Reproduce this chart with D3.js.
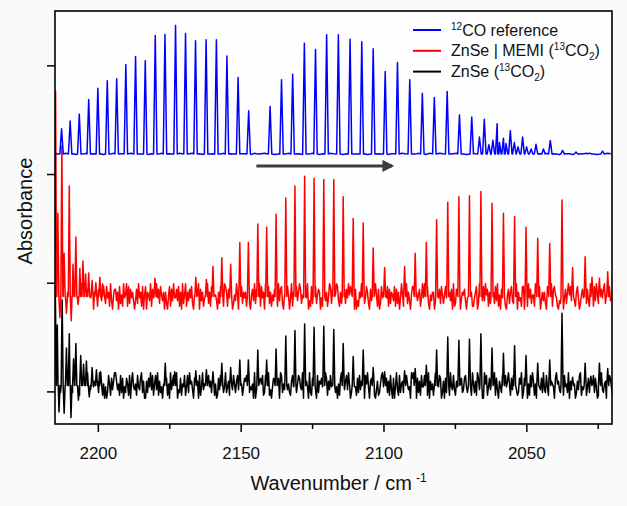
<!DOCTYPE html>
<meta charset="utf-8" />
<style>
    body {
        margin: 0;
        background: #fafafa;
    }

    svg text {
        font-family: "Liberation Sans", Arial, sans-serif;
        fill: #111;
    }

    .frame {
        fill: none;
        stroke: #000;
        stroke-width: 1.6px;
    }

    .trace {
        fill: none;
        stroke-width: 1.5px;
        stroke-linejoin: round;
    }
</style>
<svg width="627" height="506"></svg>
<script src="https://d3js.org/d3.v7.min.js"></script>
<script>
    //x axis ticks (wavenumber, cm-1)
    var majorTicks = [2200, 2150, 2100, 2050];
    var minorTicks = [2175, 2125, 2075, 2025];
    var yTicks = [0, 1, 2, 3];

    //series names for the legend
    var seriesNames = ["12CO reference", "ZnSe | MEMI (13CO2)", "ZnSe (13CO2)"];

    //baselines (absorbance, offset traces)
    var blueBase = 2.185;
    var redBase = 0.874;
    var blackBase = 0.055;

    //12CO reference lines: [wavenumber, absorbance at top]
    var bluePeaks = [
        [2212.7, 2.417], [2209.7, 2.487], [2206.5, 2.551], [2203.2, 2.686], [2200.0, 2.790],
        [2196.7, 2.858], [2193.4, 2.877], [2190.2, 3.008], [2186.8, 3.082], [2183.4, 3.042],
        [2179.9, 3.275], [2176.5, 3.284], [2172.8, 3.367], [2169.3, 3.293], [2165.8, 3.226],
        [2162.1, 3.236], [2158.5, 3.236], [2154.8, 3.085], [2150.9, 2.889], [2147.2, 2.582],
        [2139.7, 2.622], [2135.7, 2.868], [2131.8, 2.919], [2127.7, 3.204], [2123.8, 3.146],
        [2119.9, 3.282], [2115.8, 3.282], [2111.7, 3.241], [2107.6, 3.217], [2103.6, 3.153],
        [2099.4, 2.944], [2095.1, 3.027], [2090.8, 2.868], [2086.4, 2.744], [2082.2, 2.705],
        [2077.7, 2.760], [2073.4, 2.542], [2069.1, 2.524], [2066.4, 2.340], [2064.7, 2.503],
        [2063.1, 2.270], [2061.7, 2.310], [2060.2, 2.463], [2059.4, 2.290], [2058.0, 2.330],
        [2057.1, 2.280], [2055.6, 2.399], [2054.2, 2.290], [2052.9, 2.250], [2051.3, 2.340],
        [2049.9, 2.250], [2048.3, 2.230], [2046.6, 2.273], [2044.0, 2.230], [2041.6, 2.309],
        [2037.3, 2.217], [2032.6, 2.202], [2027.9, 2.193], [2023.3, 2.211]
    ];

    //ZnSe | MEMI (13CO2) spikes
    var redPeaks = [
        [2214.8, 2.76], [2214.0, 1.64], [2213.3, 0.68], [2212.6, 2.26], [2211.8, 1.27],
        [2211.0, 0.72], [2210.0, 1.89], [2209.3, 0.65], [2208.7, 1.17], [2207.7, 1.42],
        [2206.9, 0.80], [2206.3, 1.13], [2205.2, 1.20], [2204.3, 1.08], [2203.2, 1.09],
        [2202.0, 1.02], [2200.7, 1.00], [2199.3, 1.05], [2198.0, 0.97], [2180.0, 1.04],
        [2165.7, 1.05], [2162.0, 1.03], [2159.7, 1.15], [2156.6, 1.23], [2153.5, 1.17],
        [2150.3, 1.37], [2147.3, 1.37], [2144.0, 1.54], [2140.9, 1.51], [2137.6, 1.63],
        [2134.2, 1.78], [2131.0, 1.89], [2127.6, 1.98], [2124.3, 1.96], [2120.9, 1.95],
        [2117.4, 1.95], [2114.1, 1.79], [2110.6, 1.59], [2107.1, 1.55], [2103.6, 1.32],
        [2099.6, 1.14], [2092.6, 1.15], [2088.9, 1.27], [2085.0, 1.37], [2081.4, 1.58],
        [2077.5, 1.74], [2073.6, 1.79], [2069.9, 1.80], [2065.9, 1.84], [2062.0, 1.73],
        [2058.0, 1.64], [2054.1, 1.61], [2050.1, 1.51], [2046.0, 1.41], [2041.8, 1.36],
        [2037.5, 1.76], [2033.8, 1.14], [2029.4, 1.24], [2027.0, 1.05], [2024.4, 1.04],
        [2021.5, 1.10]
    ];

    //ZnSe (13CO2) spikes
    var blackPeaks = [
        [2214.9, 0.975], [2214.2, 0.61], [2213.6, -0.19], [2212.5, 0.84], [2211.8, -0.20],
        [2211.0, 0.40], [2210.0, 0.53], [2209.4, -0.24], [2208.5, 0.30], [2207.7, 0.44],
        [2206.8, -0.08], [2206.0, 0.33], [2205.0, 0.25], [2204.0, 0.28], [2203.0, -0.05],
        [2202.0, 0.22], [2200.5, 0.20], [2199.0, 0.18], [2176.4, 0.26], [2173.1, 0.18],
        [2165.7, 0.19], [2162.0, 0.20], [2159.7, 0.18], [2156.6, 0.26], [2153.5, 0.22],
        [2150.3, 0.29], [2147.3, 0.29], [2144.0, 0.38], [2140.9, 0.29], [2137.6, 0.39],
        [2134.2, 0.51], [2131.0, 0.56], [2127.6, 0.62], [2124.3, 0.59], [2120.9, 0.60],
        [2117.4, 0.57], [2114.1, 0.44], [2110.6, 0.32], [2107.1, 0.38], [2103.6, 0.22],
        [2099.6, 0.18], [2092.6, 0.19], [2088.9, 0.21], [2085.0, 0.24], [2081.4, 0.38],
        [2077.5, 0.50], [2073.6, 0.47], [2069.9, 0.48], [2065.9, 0.53], [2062.0, 0.40],
        [2058.0, 0.35], [2054.1, 0.42], [2050.1, 0.33], [2046.0, 0.26], [2041.8, 0.29],
        [2037.5, 0.72], [2033.8, 0.13], [2029.4, 0.26], [2027.4, 0.14], [2024.4, 0.26],
        [2021.5, 0.21]
    ];

    //baseline noise, one digit per sample (4.5 = on the baseline)
    var blueNoise =
        "5456453546456535464553645463544655436545645354564635465543645645345465" +
        "4536465354655435644553465463554653546436546534565435645463456453654546" +
        "45463543655364565434465534654645654";
    var redNoise =
        "7294816350816392740563817294509271548306481726395028461930577360825194" +
        "5918274630372946180580653917421947285360620581739447381609259163748205" +
        "2859073614749261803553062847198617493025395071826461842057392773918460" +
        "9048261537461937820572850491631836972540649031827582576041933614982705" +
        "5983162047274958613070316498524862073915951702846394817265" +
        "3817260495174926305882063571494971820536603914728525849163709127538046" +
        "573048296114680295738395716240" +
        "6283915074941057268327590634188036194725519724803636208754917854103269" +
        "04726958319316840257406273195818395260747925018346";
    var blackNoise =
        "3816924075619503827482471605931590732846736294815040285173699635182704" +
        "2751806943518437926006274938158391624057471509368269032715481482956307" +
        "7260814935395846207150173896249246170385268390514768712435090394675812" +
        "8529130476416709825379352168401258743906564092173830826574199716384502" +
        "2405179863683950217441728369508594067231036125894757261830" +
        "7049318256261853409793507261844827190635159364870260728519438316409572" +
        "378426501952619734800958147326" +
        "5917306428028469517384631275902736051849615089437293284170654079563218" +
        "18452906377502638914369147208582740165932560938741";

    //arrow showing the isotope shift (wavenumber from, to, height)
    var arrowSpan = [2144.5, 2097.0];
    var arrowLevel = 2.075;

    var svg = d3.select("svg");
    var margin = { left: 55, right: 15, top: 11, bottom: 82 };
    var width = +svg.attr("width");
    var height = +svg.attr("height");

    var x = d3.scaleLinear()
        .domain([2215, 2020])
        .range([margin.left, width - margin.right]);

    var y = d3.scaleLinear()
        .domain([-0.3, 3.5])
        .range([height - margin.bottom, margin.top]);

    //plot background
    svg.append("rect")
        .attr("x", margin.left)
        .attr("y", margin.top)
        .attr("width", x.range()[1] - margin.left)
        .attr("height", y.range()[0] - margin.top)
        .attr("fill", "#fefefe");

    svg.append("clipPath")
        .attr("id", "plot-clip")
        .append("rect")
        .attr("x", margin.left)
        .attr("y", margin.top)
        .attr("width", x.range()[1] - margin.left)
        .attr("height", y.range()[0] - margin.top);

    //put noise samples on a grid and drop the spikes in
    function buildTrace(base, noise, step, amp, peaks, half) {
        var pts = [];
        for (var i = 0; i < noise.length; i++) {
            var wn = 2214.8 - i * step;
            if (wn < 2019.4) break;
            var inside = peaks.some(function (p) {
                return Math.abs(p[0] - wn) < half;
            });
            if (inside) continue;
            pts.push([wn, base + (+noise[i] - 4.5) * amp]);
        }
        peaks.forEach(function (p) {
            pts.push([p[0] + half, base]);
            pts.push([p[0], p[1]]);
            pts.push([p[0] - half, base]);
        });
        pts.sort(function (a, b) {
            return b[0] - a[0];
        });
        return pts;
    }

    var traces = [
        { color: "#0000ff", pts: buildTrace(blueBase, blueNoise, 1.2, 0.0035, bluePeaks, 0.6) },
        { color: "#ff0000", pts: buildTrace(redBase, redNoise, 0.35, 0.026, redPeaks, 0.35) },
        { color: "#000000", pts: buildTrace(blackBase, blackNoise, 0.35, 0.026, blackPeaks, 0.35) }
    ];

    var line = d3.line()
        .x(function (d) {
            return x(d[0]);
        })
        .y(function (d) {
            return y(d[1]);
        });

    svg.append("g")
        .attr("clip-path", "url(#plot-clip)")
        .selectAll("path")
        .data(traces.slice().reverse())
        .enter()
        .append("path")
        .attr("class", "trace")
        .attr("stroke", function (d) {
            return d.color;
        })
        .attr("d", function (d) {
            return line(d.pts);
        });

    //arrow
    svg.append("defs")
        .append("marker")
        .attr("id", "head")
        .attr("viewBox", "0 0 10 10")
        .attr("refX", 8)
        .attr("refY", 5)
        .attr("markerWidth", 4)
        .attr("markerHeight", 4)
        .attr("orient", "auto")
        .append("path")
        .attr("d", "M0,0L10,5L0,10z")
        .attr("fill", "#3c3c3c");

    svg.append("line")
        .attr("x1", x(arrowSpan[0]))
        .attr("x2", x(arrowSpan[1]))
        .attr("y1", y(arrowLevel))
        .attr("y2", y(arrowLevel))
        .attr("stroke", "#3c3c3c")
        .attr("stroke-width", 3)
        .attr("marker-end", "url(#head)");

    //axes
    var xAxis = svg.append("g")
        .attr("transform", "translate(0," + y.range()[0] + ")")
        .call(d3.axisBottom(x).tickValues(majorTicks).tickSize(8).tickPadding(15).tickFormat(d3.format("d")));
    svg.append("g")
        .attr("transform", "translate(0," + y.range()[0] + ")")
        .call(d3.axisBottom(x).tickValues(minorTicks).tickSize(5).tickFormat(""));
    svg.append("g")
        .attr("transform", "translate(" + margin.left + ",0)")
        .call(d3.axisLeft(y).tickValues(yTicks).tickSize(8).tickFormat(""));

    svg.selectAll(".domain").remove();
    svg.selectAll(".tick line").attr("stroke", "#000").attr("stroke-width", 1.5);
    xAxis.selectAll("text")
        .style("font-size", "17px")
        .attr("fill", "#111");

    svg.append("rect")
        .attr("class", "frame")
        .attr("x", margin.left)
        .attr("y", margin.top)
        .attr("width", x.range()[1] - margin.left)
        .attr("height", y.range()[0] - margin.top);

    //axis titles
    var xTitle = svg.append("text")
        .attr("x", (margin.left + x.range()[1]) / 2 + 5)
        .attr("y", 490)
        .attr("text-anchor", "middle")
        .style("font-size", "20px");
    xTitle.append("tspan").text("Wavenumber / cm");
    xTitle.append("tspan").attr("dx", 4).attr("dy", -8).style("font-size", "12px").text("-1");

    svg.append("text")
        .attr("transform", "translate(32,211) rotate(-90)")
        .attr("text-anchor", "middle")
        .style("font-size", "20px")
        .text("Absorbance");

    //legend
    var legend = svg.append("g")
        .selectAll("g")
        .data(traces)
        .enter()
        .append("g")
        .attr("transform", function (d, i) {
            return "translate(413," + (30 + i * 20.8) + ")";
        });

    legend.append("line")
        .attr("x1", 0)
        .attr("x2", 28)
        .attr("stroke", function (d) {
            return d.color;
        })
        .attr("stroke-width", 2);

    var labels = legend.append("text")
        .attr("x", 38)
        .attr("y", 5.5)
        .style("font-size", "16px");

    //labels need isotope superscripts and subscripts
    labels.each(function (d, i) {
        var t = d3.select(this);
        if (i === 0) {
            t.append("tspan").attr("dy", -6).style("font-size", "10px").text("12");
            t.append("tspan").attr("dy", 6).text("CO reference");
        } else {
            t.append("tspan").text(i === 1 ? "ZnSe | MEMI (" : "ZnSe (");
            t.append("tspan").attr("dy", -6).style("font-size", "10px").text("13");
            t.append("tspan").attr("dy", 6).text("CO");
            t.append("tspan").attr("dy", 4).style("font-size", "10px").text("2");
            t.append("tspan").attr("dy", -4).text(")");
        }
    });
</script>
